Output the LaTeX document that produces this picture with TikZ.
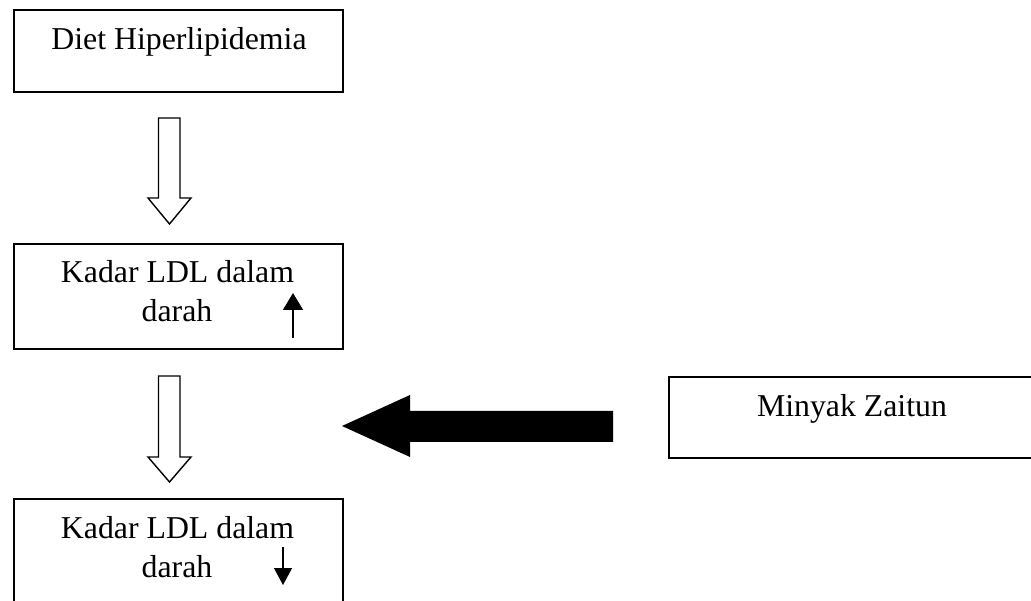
\documentclass[tikz,border=0pt]{standalone}
\usepackage{fontspec}
\setmainfont{Liberation Serif}
\usetikzlibrary{arrows.meta}
\begin{document}
\begin{tikzpicture}[x=1pt,y=-1pt,
  box/.style={draw,line width=1.8pt,inner sep=0pt,anchor=north west},
  txt/.style={font=\fontsize{31.8}{38}\selectfont,anchor=base,inner sep=0pt},
  hollow/.style={draw,line width=1.4pt,fill=white,line join=miter},
  solidarrow/.style={fill=black},
  small/.style={line width=1.3pt}]
\useasboundingbox (0,0) rectangle (1031,601);
\clip (0,0) rectangle (1031,601);
% boxes
\node[box,minimum width=329pt,minimum height=82pt] (diet) at (13,9) {};
\node[txt] (dietT) at (179,50) {Diet Hiperlipidemia};
\node[box,minimum width=329pt,minimum height=105pt] (up) at (13,243) {};
\node[txt] (upA) at (177.5,283) {Kadar LDL dalam};
\node[txt] (upB) at (177,322) {darah};
\node[box,minimum width=329pt,minimum height=130pt] (down) at (13,498) {};
\node[txt] (downA) at (177.5,538) {Kadar LDL dalam};
\node[txt] (downB) at (177,577) {darah};
\node[box,minimum width=380pt,minimum height=81pt] (oil) at (668,376) {};
\node[txt] (oilT) at (852,417) {Minyak Zaitun};
% hollow block arrows
\draw[hollow] (158.5,118) -- (180,118) -- (180,198) -- (191,198) -- (169.5,224) -- (148,198) -- (158.5,198) -- cycle;
\draw[hollow] (158.5,376) -- (180,376) -- (180,457) -- (191,457) -- (169.5,482) -- (148,457) -- (158.5,457) -- cycle;
% black block arrow
\fill[solidarrow] (613,411) -- (410,411) -- (410,395) -- (342,426) -- (410,457) -- (410,442) -- (613,442) -- cycle;
% small arrows
\coordinate (u1) at (293,338); \coordinate (u2) at (293,293);
\draw[small,-{Triangle[length=17pt,width=20pt]}] (u1) -- (u2);
\coordinate (d1) at (283,547); \coordinate (d2) at (283,585);
\draw[small,-{Triangle[length=17pt,width=18pt]}] (d1) -- (d2);
\end{tikzpicture}
\end{document}
